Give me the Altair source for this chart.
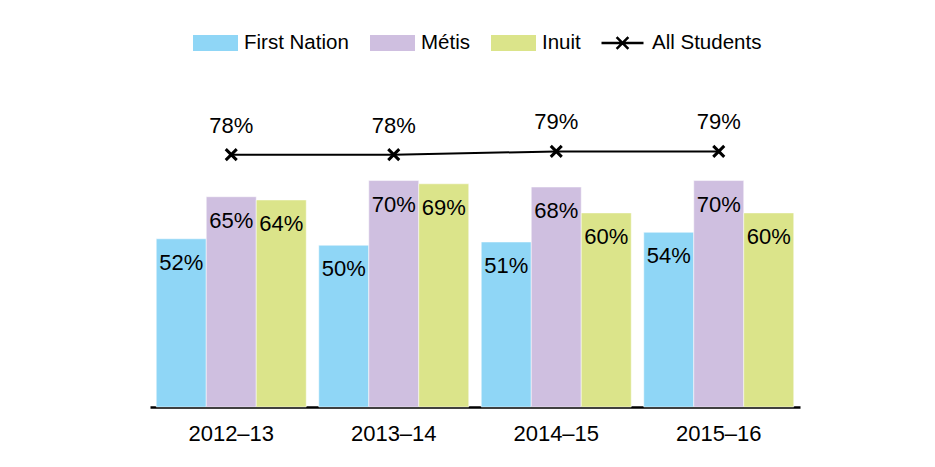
import altair as alt
import pandas as pd

years = ["2012–13", "2013–14", "2014–15", "2015–16"]
groups = ["First Nation", "Métis", "Inuit"]
first_nation = [52, 50, 51, 54]
metis = [65, 70, 68, 70]
inuit = [64, 69, 60, 60]
all_students = [78, 78, 79, 79]
colors = ["#8fd6f6", "#cfbfe0", "#dbe48a"]

rows = []
for i, yr in enumerate(years):
    for g, vals in zip(groups, [first_nation, metis, inuit]):
        rows.append({"Year": yr, "Group": g, "Value": vals[i]})
bars_df = pd.DataFrame(rows)
line_df = pd.DataFrame({"Year": years, "Value": all_students,
                        "Series": ["All Students"] * len(years)})

FONT = "Liberation Sans"

x_scale = alt.Scale(domain=years, paddingInner=0.077, paddingOuter=0.0385)
x = alt.X("Year:N", scale=x_scale, sort=years,
          axis=alt.Axis(title=None, labelAngle=0, labelFontSize=22, labelFont=FONT,
                        labelColor="black", labelPadding=16, ticks=False,
                        domainColor="black", domainWidth=2.5, grid=False))
y = alt.Y("Value:Q", scale=alt.Scale(domain=[0, 100]), axis=None)
xoff = alt.XOffset("Group:N", sort=groups,
                   scale=alt.Scale(domain=groups, paddingInner=0, paddingOuter=0))

rect_path = "M-1,-0.356L1,-0.356L1,0.356L-1,0.356Z"
line_path = "M-1,0L1,0M-0.28,-0.28L0.28,0.28M-0.28,0.28L0.28,-0.28"

bars = alt.Chart(bars_df).mark_bar(stroke="white", strokeWidth=0.5).encode(
    x=x, xOffset=xoff, y=y,
    fill=alt.Fill("Group:N", sort=groups,
                  scale=alt.Scale(domain=groups, range=colors),
                  legend=alt.Legend(orient="none", legendX=43, legendY=-63,
                                    direction="horizontal", title=None,
                                    symbolType=rect_path, symbolSize=2025,
                                    symbolStrokeWidth=0, symbolOpacity=1,
                                    labelFontSize=20.5, labelFont=FONT,
                                    labelColor="black", labelOffset=6,
                                    columnPadding=21))
)

bar_text = alt.Chart(bars_df).transform_calculate(
    label="datum.Value + '%'"
).mark_text(baseline="middle", dy=24, fontSize=22, font=FONT, color="black").encode(
    x=x, xOffset=xoff, y=y, text="label:N"
)

line = alt.Chart(line_df).mark_line(strokeWidth=2).encode(
    x=x, y=y,
    stroke=alt.Stroke("Series:N",
                      scale=alt.Scale(domain=["All Students"], range=["black"]),
                      legend=alt.Legend(orient="none", legendX=450, legendY=-63,
                                        title=None, symbolType=line_path,
                                        symbolSize=1764, symbolStrokeWidth=2.5,
                                        symbolStrokeColor="black",
                                        labelFontSize=20.5, labelFont=FONT,
                                        labelColor="black", labelOffset=7))
)

points = alt.Chart(line_df).mark_point(
    shape="M-1,-1L1,1M-1,1L1,-1", size=121, stroke="black", strokeWidth=3,
    filled=False, opacity=1
).encode(x=x, y=y)

line_text = alt.Chart(line_df).transform_calculate(
    label="datum.Value + '%'"
).mark_text(baseline="middle", dy=-29, fontSize=22, font=FONT, color="black").encode(
    x=x, y=y, text="label:N"
)

chart = alt.layer(bars, bar_text, line, points, line_text).properties(
    width=650, height=323.5,
    padding={"left": 142, "top": 75.5, "right": 120, "bottom": 48},
    autosize="none",
).configure_view(stroke=None)

chart.save("out.html", embed_options={"renderer": "svg", "actions": False})
